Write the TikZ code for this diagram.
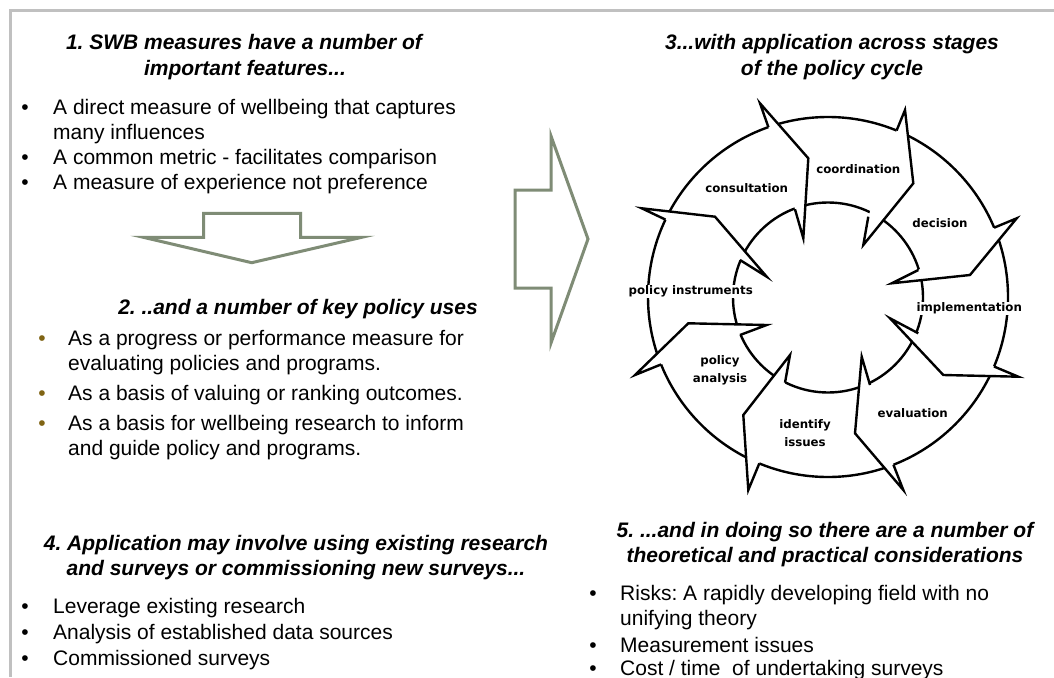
\documentclass[tikz,border=0pt]{standalone}
\usepackage{fontspec}
\setmainfont{Liberation Sans}
\newfontfamily\cycfont{DejaVu Sans}
\usetikzlibrary{calc}
\definecolor{framegray}{RGB}{192,192,192}
\definecolor{arrowgreen}{RGB}{127,140,118}
\definecolor{bulletolive}{RGB}{128,100,20}
\frenchspacing
\begin{document}
\begin{tikzpicture}[x=1pt,y=-1pt,
  head/.style={font=\fontsize{21}{25}\selectfont\bfseries\itshape, inner sep=0pt, anchor=base},
  body/.style={font=\fontsize{21}{25}\selectfont, inner sep=0pt, anchor=base west},
  dot/.style={font=\fontsize{21}{25}\selectfont, inner sep=0pt, anchor=base},
  odot/.style={dot, text=bulletolive},
  bigarrow/.style={draw=arrowgreen, line width=3pt, line join=miter, fill=white},
  ring/.style={draw=black, line width=2.4pt},
  divider/.style={draw=black, line width=2.4pt, line join=miter},
  cyc/.style={font=\cycfont\bfseries\fontsize{11.8}{18.5}\selectfont, fill=white, inner sep=1pt, align=center},
]
\useasboundingbox (0,0) rectangle (1054,677);
\fill[white] (0,0) rectangle (1054,677);
% frame
\draw[framegray, line width=2.7pt] (10.7,677) -- (10.7,10.7) -- (1054,10.7);

% ---------- section 1
\node[head] (h1a) at (244,50) {1. SWB measures have a number of};
\node[head] (h1b) at (245,75) {important features...};
\node[dot] (d11) at (25,114) {•};
\node[body] (t11) at (53,114) {A direct measure of wellbeing that captures};
\node[body] (t12) at (53,139) {many influences};
\node[dot] (d12) at (25,164) {•};
\node[body] (t13) at (53,164) {A common metric - facilitates comparison};
\node[dot] (d13) at (25,189) {•};
\node[body] (t14) at (53,189) {A measure of experience not preference};

% down arrow
\draw[bigarrow] (203.5,213.3) -- (300.7,213.3) -- (300.7,237.3) -- (361.7,237.3) -- (251.7,262.7) -- (143.3,237.3) -- (203.5,237.3) -- cycle;

% ---------- section 2
\node[head] (h2) at (298,314) {2. ..and a number of key policy uses};
\node[odot] (d21) at (42,345) {•};
\node[body] (t21) at (68,345) {As a progress or performance measure for};
\node[body] (t22) at (68,370) {evaluating policies and programs.};
\node[odot] (d22) at (42,400) {•};
\node[body] (t23) at (68,400) {As a basis of valuing or ranking outcomes.};
\node[odot] (d23) at (42,430) {•};
\node[body] (t24) at (68,430) {As a basis for wellbeing research to inform};
\node[body] (t25) at (68,455) {and guide policy and programs.};

% right arrow
\draw[bigarrow] (515,190) -- (551,190) -- (551,136) -- (588,239) -- (551,343) -- (551,288) -- (515,288) -- cycle;

% ---------- section 3
\node[head] (h3a) at (832,50) {3...with application across stages};
\node[head] (h3b) at (832,75) {of the policy cycle};

% policy cycle
\coordinate (cc) at (828,297);
\draw[ring] (cc) circle[radius=180];
\draw[ring] (828,297.5) circle[radius=95];

% divider points: q inner junction, s inner spike, p head point, t outer tip, o outer junction
\coordinate (q1) at (795.0,209.3); \coordinate (s1) at (803.3,238.3); \coordinate (p1) at (808.3,158.3); \coordinate (t1) at (760,103.3);   \coordinate (o1) at (768.4,127.2);
\coordinate (q2) at (868.3,216.7); \coordinate (s2) at (863.3,245);   \coordinate (p2) at (913.3,183.3); \coordinate (t2) at (905,110);     \coordinate (o2) at (896.6,130.5);
\coordinate (q3) at (918.3,270);   \coordinate (s3) at (891.7,283.3); \coordinate (p3) at (970,275);     \coordinate (t3) at (1016.7,218.3); \coordinate (o3) at (994.1,227.7);
\coordinate (q4) at (918.3,333.3); \coordinate (s4) at (890,318.3);   \coordinate (p4) at (943.3,375);   \coordinate (t4) at (1018.3,376.7); \coordinate (o4) at (994.0,366.5);
\coordinate (q5) at (870,385);     \coordinate (s5) at (861.7,356.7); \coordinate (p5) at (855,433.3);   \coordinate (t5) at (903.3,490);    \coordinate (o5) at (893.4,464.7);
\coordinate (q6) at (785,382.7);   \coordinate (s6) at (790,355);     \coordinate (p6) at (743.3,415);   \coordinate (t6) at (748.3,490);    \coordinate (o6) at (759.3,463.4);
\coordinate (q7) at (740,335);     \coordinate (s7) at (766.7,325);   \coordinate (p7) at (688.3,323.3); \coordinate (t7) at (635,375);      \coordinate (o7) at (661.1,364.4);
\coordinate (q8) at (740,260);     \coordinate (s8) at (766.7,276.7); \coordinate (p8) at (715,216.7);   \coordinate (t8) at (641.7,208.3);  \coordinate (o8) at (665.5,219.6);

\foreach \k in {1,...,8}{
  \fill[white] (q\k) -- (s\k) -- (p\k) -- (t\k) -- (o\k) -- cycle;
  \draw[divider] (q\k) -- (s\k) -- (p\k) -- (t\k) -- (o\k);
}

\node[cyc] (lcons) at (746.7,188.3) {consultation};
\node[cyc] (lcoor) at (858.3,169.3) {coordination};
\node[cyc] (ldeci) at (940,222.7) {decision};
\node[cyc] (limpl) at (969.3,308.3) {implementation};
\node[cyc] (leval) at (912.7,412.7) {evaluation};
\node[cyc] (liden) at (805,433) {identify\\issues};
\node[cyc] (lanal) at (720,370.5) {policy\\analysis};
\node[cyc] (linst) at (690.7,291.7) {policy instruments};

% ---------- section 4
\node[head] (h4a) at (296,550) {4. Application may involve using existing research};
\node[head] (h4b) at (296,575) {and surveys or commissioning new surveys...};
\node[dot] (d41) at (25,613) {•};
\node[body] (t41) at (53,613) {Leverage existing research};
\node[dot] (d42) at (25,639) {•};
\node[body] (t42) at (53,639) {Analysis of established data sources};
\node[dot] (d43) at (25,665) {•};
\node[body] (t43) at (53,665) {Commissioned surveys};

% ---------- section 5
\node[head] (h5a) at (825,537) {5. ...and in doing so there are a number of};
\node[head] (h5b) at (825,562) {theoretical and practical considerations};
\node[dot] (d51) at (593,600) {•};
\node[body] (t51) at (620,600) {Risks: A rapidly developing field with no};
\node[body] (t52) at (620,625) {unifying theory};
\node[dot] (d52) at (593,652) {•};
\node[body] (t53) at (620,652) {Measurement issues};
\node[dot] (d53) at (593,675) {•};
\node[body] (t54) at (620,675) {Cost / time\ \ of undertaking surveys};
\end{tikzpicture}
\end{document}
